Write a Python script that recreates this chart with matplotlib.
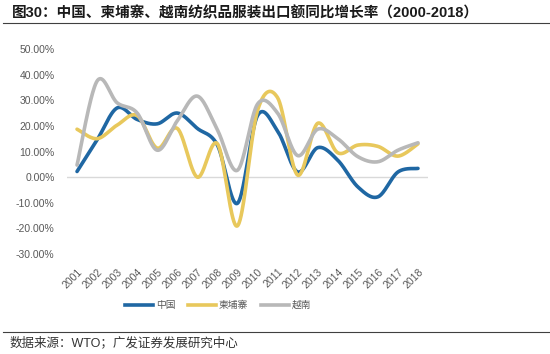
import matplotlib.pyplot as plt
from matplotlib.lines import Line2D
import numpy as np

plt.rcParams['font.family'] = ['Liberation Sans', 'Noto Sans CJK SC']

years = list(range(2001, 2019))
china = [2.2, 14.5, 27.0, 22.5, 20.8, 25.0, 19.0, 12.5, -10.2, 24.0, 18.0, 2.0,
         11.5, 6.6, -3.8, -7.7, 2.0, 3.4]
cambodia = [18.7, 15.0, 20.3, 24.0, 11.3, 19.0, 0.0, 13.0, -19.0, 26.0, 31.0, 0.8,
            21.0, 9.5, 12.5, 12.0, 8.2, 13.0]
vietnam = [4.7, 37.5, 29.0, 25.0, 10.5, 22.0, 31.6, 18.4, 2.7, 28.5, 25.0, 8.4,
           18.7, 15.0, 8.0, 6.0, 10.5, 13.4]
names = ["中国", "柬埔寨", "越南"]
colors = ["#1f67a3", "#e8c85c", "#b8b8b8"]


def smooth(x, y, n=40):
    # catmull-rom style bezier, roughly what excel's "smoothed line" does
    pts = np.column_stack([x, y]).astype(float)
    pts = np.vstack([pts[:1], pts, pts[-1:]])
    t = np.linspace(0, 1, n)[:, None]
    out = []
    for i in range(len(x) - 1):
        p0, p1, p2, p3 = pts[i], pts[i + 1], pts[i + 2], pts[i + 3]
        c1 = p1 + (p2 - p0) / 6
        c2 = p2 - (p3 - p1) / 6
        seg = ((1 - t) ** 3 * p1 + 3 * (1 - t) ** 2 * t * c1
               + 3 * (1 - t) * t ** 2 * c2 + t ** 3 * p2)
        out.append(seg if i == 0 else seg[1:])
    out = np.vstack(out)
    return out[:, 0], out[:, 1]


fig = plt.figure(figsize=(5.5, 3.54), dpi=100)
ax = fig.add_axes([67 / 550, 1 - 254 / 354, 361 / 550, 205 / 354])

ax.axhline(0, color="#d9d9d9", lw=1, zorder=1)
handles = []
for vals, name, c in zip([china, cambodia, vietnam], names, colors):
    sx, sy = smooth(years, vals)
    ax.plot(sx, sy, color=c, lw=2.6, solid_capstyle="round", zorder=2)
    handles.append(Line2D([], [], color=c, lw=2.6, label=name))

ax.set_xlim(2000.5, 2018.5)
ax.set_ylim(-30, 50)
for s in ax.spines.values():
    s.set_visible(False)

yt = list(range(-30, 51, 10))
ax.set_yticks(yt)
ax.set_yticklabels([f"{v:.2f}%" for v in yt], fontsize=7.5, color="#595959")
ax.set_xticks(years)
ax.set_xticklabels([str(y) for y in years], fontsize=7.5, color="#595959",
                   rotation=45, ha="right", va="top", rotation_mode="anchor")
ax.tick_params(axis="y", length=0, pad=9)
ax.tick_params(axis="x", length=0, pad=9)

fig.legend(handles=handles, loc="center", bbox_to_anchor=(218 / 550, 1 - 305 / 354),
           ncol=3, frameon=False, fontsize=7, handlelength=2.9, handletextpad=0.3,
           columnspacing=1.3, labelcolor="#595959")

fig.text(12 / 550, 1 - 13 / 354, "图30：中国、柬埔寨、越南纺织品服装出口额同比增长率（2000-2018）",
         fontsize=10.5, fontweight="bold", color="#1a1a1a", va="center", ha="left")
fig.add_artist(Line2D([3 / 550, 1], [1 - 22.7 / 354] * 2, color="#404040", lw=0.8))
fig.add_artist(Line2D([3 / 550, 1], [1 - 332 / 354] * 2, color="#404040", lw=0.8))
fig.text(10 / 550, 1 - 343 / 354, "数据来源：WTO；广发证券发展研究中心",
         fontsize=9, color="#333333", va="center", ha="left")

fig.savefig("out.png", dpi=100)
